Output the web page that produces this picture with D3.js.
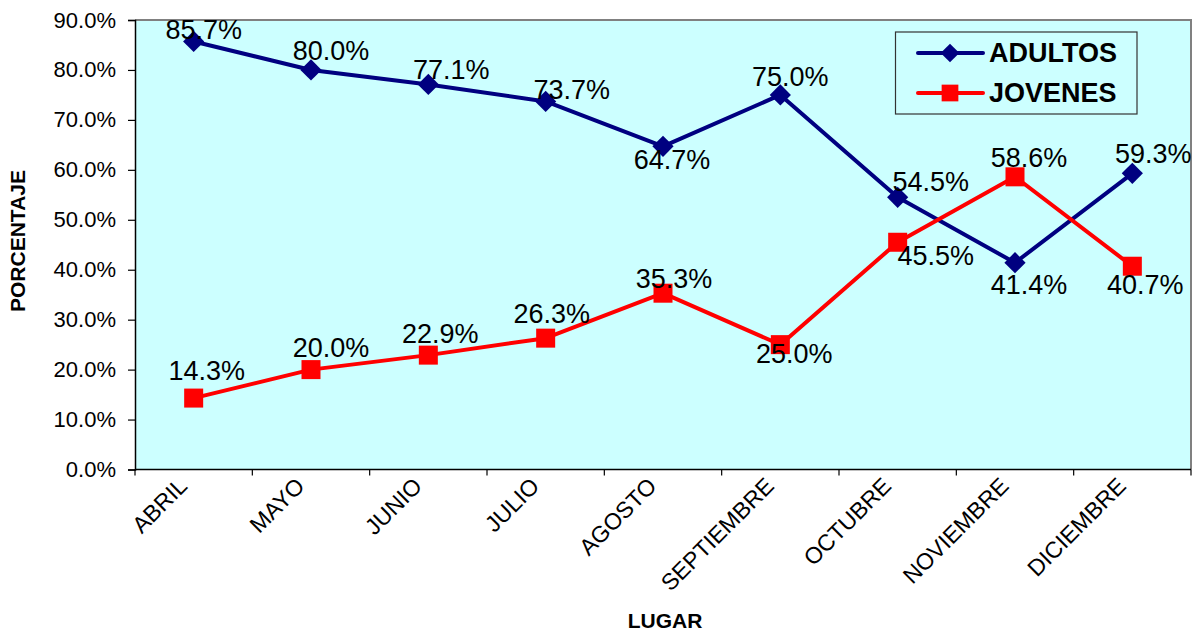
<!DOCTYPE html>
<html>
<head>
<meta charset="utf-8">
<script src="https://cdn.jsdelivr.net/npm/d3@7"></script>
<style>
  html, body { margin: 0; padding: 0; background: #ffffff; }
  svg { display: block; font-family: Arial, "Liberation Sans", sans-serif; }
</style>
</head>
<body>
<svg id="chart" width="1198" height="633"></svg>
<script>
// Months on the category axis
const meses = ["ABRIL", "MAYO", "JUNIO", "JULIO", "AGOSTO", "SEPTIEMBRE", "OCTUBRE", "NOVIEMBRE", "DICIEMBRE"];
// Share per month (percent)
const adultos = [85.7, 80.0, 77.1, 73.7, 64.7, 75.0, 54.5, 41.4, 59.3];
const jovenes = [14.3, 20.0, 22.9, 26.3, 35.3, 25.0, 45.5, 58.6, 40.7];
// Value axis ticks (percent)
const yTicks = [0, 10, 20, 30, 40, 50, 60, 70, 80, 90];

// Label placement per point: [horizontal shift of label centre, baseline shift]
const adultosLabelShift = [[10, -2], [20, -10], [23, -5], [26, -2], [9, 23], [10, -9], [33, -6], [14, 31], [21, -10]];
const jovenesLabelShift = [[13, -18], [20, -13], [12, -12], [6, -15], [11, -5], [14, 18], [38, 23], [14, -10], [13, 28]];

const svg = d3.select("#chart");
const plot = { left: 135, right: 1191, top: 20, bottom: 469.5 };

const x = d3.scaleBand().domain(meses).range([plot.left, plot.right]).padding(0);
const y = d3.scaleLinear().domain([0, 90]).range([plot.bottom, plot.top]);
const cx = m => x(m) + x.bandwidth() / 2;

// Plot background
svg.append("rect")
  .attr("x", plot.left).attr("y", plot.top)
  .attr("width", plot.right - plot.left).attr("height", plot.bottom - plot.top)
  .attr("fill", "#CCFFFF");

// Grey frame on top and right
svg.append("path")
  .attr("d", `M${plot.left},${plot.top}H${plot.right}V${plot.bottom}`)
  .attr("fill", "none").attr("stroke", "#808080").attr("stroke-width", 2);

// Y axis
const yAxis = d3.axisLeft(y)
  .tickValues(yTicks)
  .tickSize(7)
  .tickPadding(12)
  .tickFormat(d => d.toFixed(1) + "%");
const gy = svg.append("g").attr("transform", `translate(${plot.left},0)`).call(yAxis);
gy.select(".domain").attr("stroke", "#000").attr("stroke-width", 1.5);
gy.selectAll(".tick line").attr("stroke", "#000").attr("stroke-width", 1.2);
gy.selectAll(".tick text")
  .attr("font-size", 22).attr("fill", "#000")
  .attr("font-family", "Arial, 'Liberation Sans', sans-serif");

// X axis line with ticks on the category boundaries
const gx = svg.append("g");
gx.append("line")
  .attr("x1", plot.left).attr("x2", plot.right)
  .attr("y1", plot.bottom).attr("y2", plot.bottom)
  .attr("stroke", "#000").attr("stroke-width", 1.5);
const bounds = meses.map(m => x(m)).concat([plot.right]);
gx.selectAll("line.tk").data(bounds).join("line").attr("class", "tk")
  .attr("x1", d => d).attr("x2", d => d)
  .attr("y1", plot.bottom).attr("y2", plot.bottom + 6)
  .attr("stroke", "#000").attr("stroke-width", 1.2);
gx.selectAll("text").data(meses).join("text")
  .attr("transform", d => `translate(${cx(d) - 5},${plot.bottom + 18}) rotate(-45)`)
  .attr("text-anchor", "end")
  .attr("font-size", 23)
  .attr("fill", "#000")
  .text(d => d);

// Axis titles
svg.append("text")
  .attr("transform", `translate(25,241) rotate(-90)`)
  .attr("text-anchor", "middle")
  .attr("font-size", 21).attr("font-weight", "bold")
  .text("PORCENTAJE");
svg.append("text")
  .attr("x", 665).attr("y", 628)
  .attr("text-anchor", "middle")
  .attr("font-size", 21).attr("font-weight", "bold")
  .text("LUGAR");

const line = d3.line().x((d, i) => cx(meses[i])).y(d => y(d));

const series = [
  { name: "ADULTOS", values: adultos, color: "#000080", marker: "diamond", shift: adultosLabelShift },
  { name: "JOVENES", values: jovenes, color: "#FF0000", marker: "square", shift: jovenesLabelShift }
];

function drawMarker(g, type, color, px, py, scale) {
  if (type === "diamond") {
    const s = 15 * scale;
    g.append("rect")
      .attr("x", -s / 2).attr("y", -s / 2).attr("width", s).attr("height", s)
      .attr("transform", `translate(${px},${py}) rotate(45)`)
      .attr("fill", color);
  } else {
    const s = 19 * scale;
    g.append("rect")
      .attr("x", px - s / 2).attr("y", py - s / 2).attr("width", s).attr("height", s)
      .attr("fill", color);
  }
}

// Lines and markers
series.forEach(s => {
  const g = svg.append("g");
  g.append("path")
    .attr("d", line(s.values))
    .attr("fill", "none")
    .attr("stroke", s.color)
    .attr("stroke-width", 4)
    .attr("stroke-linejoin", "round");
  s.values.forEach((v, i) => drawMarker(g, s.marker, s.color, cx(meses[i]), y(v), 1));
});

// Data labels
series.forEach(s => {
  svg.append("g").selectAll("text").data(s.values).join("text")
    .attr("x", (d, i) => cx(meses[i]) + s.shift[i][0])
    .attr("y", (d, i) => y(d) + s.shift[i][1])
    .attr("text-anchor", "middle")
    .attr("font-size", 27)
    .attr("fill", "#000")
    .text(d => d.toFixed(1) + "%");
});

// Legend
const lg = svg.append("g");
lg.append("rect")
  .attr("x", 895.5).attr("y", 32).attr("width", 241.5).attr("height", 82)
  .attr("fill", "#CCFFFF").attr("stroke", "#333").attr("stroke-width", 1.2);
series.forEach((s, i) => {
  const ly = 53 + i * 40;
  lg.append("line")
    .attr("x1", 918).attr("x2", 983).attr("y1", ly).attr("y2", ly)
    .attr("stroke", s.color).attr("stroke-width", 4).attr("stroke-linecap", "round");
  drawMarker(lg, s.marker, s.color, 950, ly, 0.88);
  lg.append("text")
    .attr("x", 989).attr("y", ly + 9)
    .attr("font-size", 27).attr("font-weight", "bold")
    .attr("fill", "#000")
    .text(s.name);
});
</script>
</body>
</html>
